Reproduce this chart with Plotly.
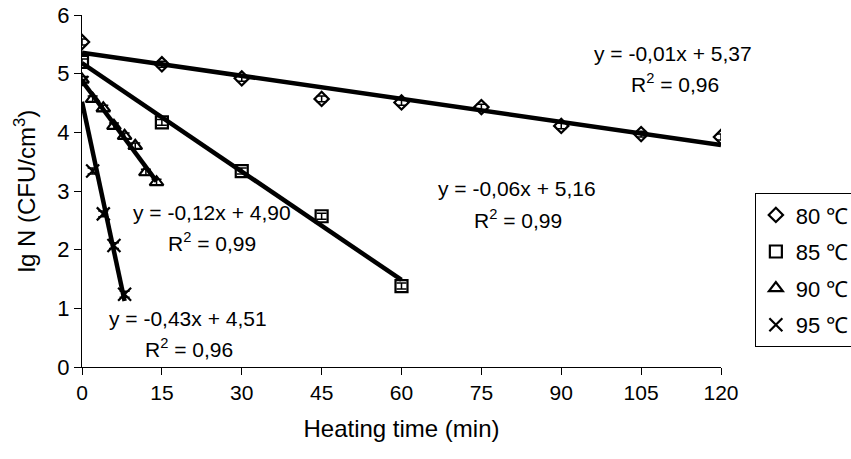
import numpy as np
import plotly.graph_objects as go

# ---- data ----
t80 = [0, 15, 30, 45, 60, 75, 90, 105, 120]
n80 = [5.54, 5.16, 4.92, 4.57, 4.51, 4.43, 4.11, 3.97, 3.92]
t85 = [0, 15, 30, 45, 60]
n85 = [5.20, 4.17, 3.34, 2.57, 1.38]
t90 = [0, 2, 4, 6, 8, 10, 12, 14]
n90 = [4.90, 4.57, 4.41, 4.11, 3.94, 3.77, 3.32, 3.15]
t95 = [0, 2, 4, 6, 8]
n95 = [4.85, 3.34, 2.61, 2.07, 1.24]
err = 0.05

labels = ["80 ℃", "85 ℃", "90 ℃", "95 ℃"]
eq_text = ["y = -0,01x + 5,37", "y = -0,06x + 5,16", "y = -0,12x + 4,90", "y = -0,43x + 4,51"]
r2_text = ["R<sup>2</sup> = 0,96", "R<sup>2</sup> = 0,99", "R<sup>2</sup> = 0,99", "R<sup>2</sup> = 0,96"]
eq_pos = [(111.0, 5.35), (81.7, 3.05), (24.4, 2.64), (19.9, 0.835)]
r2_pos = [(111.4, 4.84), (81.9, 2.52), (24.4, 2.13), (20.1, 0.32)]

x_ticks = [0, 15, 30, 45, 60, 75, 90, 105, 120]
y_ticks = [0, 1, 2, 3, 4, 5, 6]

series = [(t80, n80), (t85, n85), (t90, n90), (t95, n95)]
symbols = ["diamond-open", "square-open", "triangle-up-open", "x-thin-open"]
sizes = [11, 12, 12, 13]

FONT = "Arial, Liberation Sans, sans-serif"
fig = go.Figure()

# trend lines
for (tx, ny) in series:
    k, b = np.polyfit(tx, ny, 1)
    xs = np.array([min(tx), max(tx)])
    fig.add_trace(go.Scatter(x=xs, y=k * xs + b, mode="lines",
                             line=dict(color="black", width=4.5),
                             showlegend=False, hoverinfo="skip"))

# data points
for i, ((tx, ny), lab, sym, sz) in enumerate(zip(series, labels, symbols, sizes)):
    fig.add_trace(go.Scatter(
        x=tx, y=ny, mode="markers", name=lab, legendgroup=f"g{i}",
        marker=dict(symbol=sym, size=sz, color="black",
                    line=dict(color="black", width=2.2)),
        error_y=dict(type="constant", value=err, color="black",
                     thickness=1.5, width=5),
    ))

for txt, (ax, ay) in zip(eq_text, eq_pos):
    fig.add_annotation(x=ax, y=ay, text=txt, showarrow=False,
                       font=dict(family=FONT, size=21, color="black"))
for txt, (ax, ay) in zip(r2_text, r2_pos):
    fig.add_annotation(x=ax, y=ay, text=txt, showarrow=False,
                       font=dict(family=FONT, size=21, color="black"))

fig.update_layout(
    width=851, height=459,
    margin=dict(l=82, r=130, t=15, b=92, autoexpand=False),
    paper_bgcolor="white", plot_bgcolor="white",
    font=dict(family=FONT, size=21, color="black"),
    showlegend=True,
    legend=dict(x=1.053, y=0.494, xanchor="left", yanchor="top",
                bordercolor="black", borderwidth=1, bgcolor="white",
                font=dict(family=FONT, size=22, color="black"),
                tracegroupgap=5, itemwidth=30),
    xaxis=dict(range=[0, 120], tickvals=x_ticks, ticktext=[str(v) for v in x_ticks],
               showgrid=False, zeroline=False, showline=True, linecolor="black",
               linewidth=1, ticks="outside", ticklen=7, tickcolor="black",
               tickfont=dict(size=21), automargin=False,
               title=dict(text="Heating time (min)", font=dict(size=24), standoff=16)),
    yaxis=dict(range=[0, 6], tickvals=y_ticks, ticktext=[str(v) for v in y_ticks],
               showgrid=False, zeroline=False, showline=True, linecolor="black",
               linewidth=1, ticks="outside", ticklen=7, tickcolor="black",
               tickfont=dict(size=22), automargin=False,
               title=dict(text="lg N (CFU/cm<sup>3</sup>)", font=dict(size=24), standoff=14)),
)

fig.write_html("out.html", config={"displayModeBar": False},
               post_script="document.body.style.margin='0px';")
